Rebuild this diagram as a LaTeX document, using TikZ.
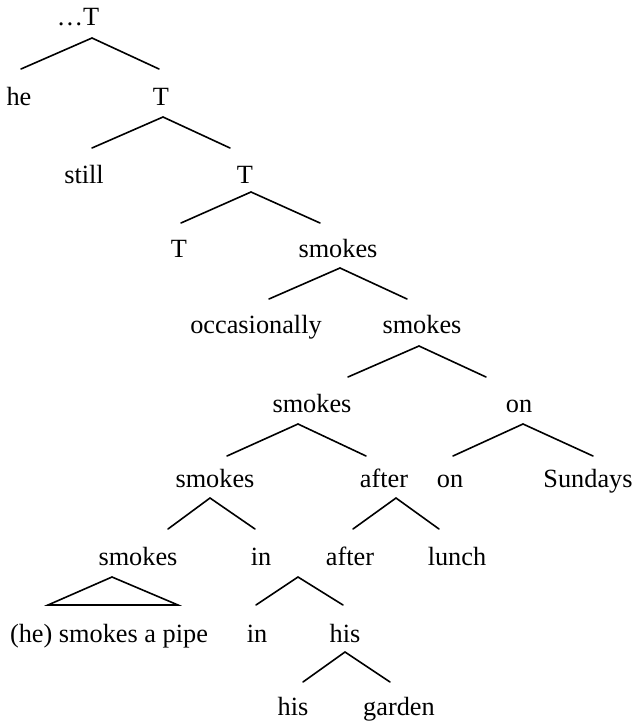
\documentclass[tikz,border=0pt]{standalone}
\usepackage{fontspec}
\setmainfont{Liberation Serif}
\begin{document}
\begin{tikzpicture}[x=0.5pt,y=-0.5pt,
  lbl/.style={anchor=base,inner sep=0pt,font=\fontsize{13.15pt}{15pt}\selectfont},
  branch/.style={line width=0.8pt,line cap=round,line join=miter}]
\useasboundingbox (0,0) rectangle (633,724);
% labels
\node[lbl] (t1) at (78,25) {…T};
\node[lbl] (he) at (19,105) {he};
\node[lbl] (t2) at (161,105) {T};
\node[lbl] (still) at (84,183) {still};
\node[lbl] (t3) at (245,183) {T};
\node[lbl] (t4) at (179,257) {T};
\node[lbl] (sm1) at (338,257) {smokes};
\node[lbl] (occ) at (256,333) {occasionally};
\node[lbl] (sm2) at (422,333) {smokes};
\node[lbl] (sm3) at (312,412) {smokes};
\node[lbl] (on1) at (519,412) {on};
\node[lbl] (sm4) at (215,487) {smokes};
\node[lbl] (aft1) at (384,487) {after};
\node[lbl] (on2) at (450,487) {on};
\node[lbl] (sun) at (588,487) {Sundays};
\node[lbl] (sm5) at (138,565) {smokes};
\node[lbl] (in1) at (261,565) {in};
\node[lbl] (aft2) at (350,565) {after};
\node[lbl] (lunch) at (457,565) {lunch};
\node[lbl] (pipe) at (109,642) {(he) smokes a pipe};
\node[lbl] (in2) at (257,642) {in};
\node[lbl] (his1) at (345,642) {his};
\node[lbl] (his2) at (293,715) {his};
\node[lbl] (gard) at (399,715) {garden};
% branch points
\coordinate (a-t1) at (92,38);   \coordinate (l-t1) at (21,69);   \coordinate (r-t1) at (159,69);
\coordinate (a-t2) at (163,117); \coordinate (l-t2) at (92,148);  \coordinate (r-t2) at (230,148);
\coordinate (a-t3) at (251,192); \coordinate (l-t3) at (181,223); \coordinate (r-t3) at (320,223);
\coordinate (a-sm1) at (340,268); \coordinate (l-sm1) at (269,299); \coordinate (r-sm1) at (407,299);
\coordinate (a-sm2) at (419,346); \coordinate (l-sm2) at (348,377); \coordinate (r-sm2) at (486,377);
\coordinate (a-sm3) at (298,424); \coordinate (l-sm3) at (227,456); \coordinate (r-sm3) at (366,456);
\coordinate (a-on1) at (523,424); \coordinate (l-on1) at (453,456); \coordinate (r-on1) at (593,456);
\coordinate (a-sm4) at (210,498); \coordinate (l-sm4) at (168,529); \coordinate (r-sm4) at (255,529);
\coordinate (a-aft1) at (396,498); \coordinate (l-aft1) at (353,529); \coordinate (r-aft1) at (439,529);
\coordinate (a-sm5) at (112,577); \coordinate (l-sm5) at (48,605); \coordinate (r-sm5) at (178,605);
\coordinate (a-in1) at (298,577); \coordinate (l-in1) at (256,605); \coordinate (r-in1) at (343,605);
\coordinate (a-his1) at (345,652); \coordinate (l-his1) at (303,682); \coordinate (r-his1) at (390,682);
% branches
\foreach \n in {t1,t2,t3,sm1,sm2,sm3,on1,sm4,aft1,in1,his1}
  \draw[branch] (l-\n) -- (a-\n) -- (r-\n);
\draw[branch] (l-sm5) -- (a-sm5) -- (r-sm5) -- cycle;
\end{tikzpicture}
\end{document}
